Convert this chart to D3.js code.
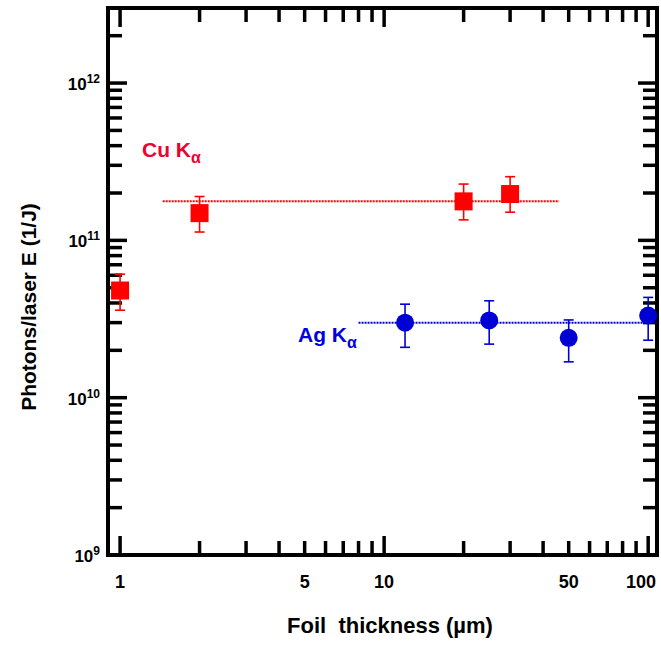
<!DOCTYPE html>
<html>
<head>
<meta charset="utf-8">
<script src="https://cdn.jsdelivr.net/npm/d3@7"></script>
<style>
  html, body { margin: 0; padding: 0; background: #fff; }
  svg { display: block; font-family: "Liberation Sans", Arial, sans-serif; }
</style>
</head>
<body>
<svg id="chart" width="661" height="650"></svg>
<script>
// ---- data ----
const cuX  = [1, 2, 20, 30];
const cuY  = [4.8e10, 1.49e11, 1.77e11, 1.97e11];
const cuLo = [3.6e10, 1.13e11, 1.35e11, 1.51e11];
const cuHi = [6.1e10, 1.90e11, 2.28e11, 2.54e11];

const agX  = [12, 25, 50, 100];
const agY  = [3.0e10, 3.1e10, 2.4e10, 3.33e10];
const agLo = [2.09e10, 2.19e10, 1.69e10, 2.32e10];
const agHi = [3.93e10, 4.13e10, 3.12e10, 4.34e10];

const cuFitX = [1.45, 46];
const cuFitY = 1.77e11;
const agFitX = [8, 108];
const agFitY = 3.0e10;

const xMajor = [1, 10, 100];
const xMinor = [2, 3, 4, 5, 6, 7, 8, 9, 20, 30, 40, 50, 60, 70, 80, 90];
const xTickLabels = [1, 5, 10, 50, 100];
const yMajorExp = [9, 10, 11, 12];
const yMinor = [];
[1e9, 1e10, 1e11, 1e12].forEach(d => { for (let k = 2; k <= 9; k++) if (d * k <= 3e12) yMinor.push(d * k); });

// ---- layout ----
const L = 108, R = 657, T = 8, B = 555;
const svg = d3.select("#chart");
const x = d3.scaleLog().domain([0.9, 108]).range([L, R]);
const y = d3.scaleLog().domain([1e9, 3e12]).range([B, T]);

const red = "#ff0000", blue = "#0000d4";

// ticks
const gT = svg.append("g").attr("stroke", "#000").attr("stroke-width", 3.5);
function xt(v, len) {
  gT.append("line").attr("x1", x(v)).attr("x2", x(v)).attr("y1", B).attr("y2", B - len);
  gT.append("line").attr("x1", x(v)).attr("x2", x(v)).attr("y1", T).attr("y2", T + len);
}
function yt(v, len) {
  gT.append("line").attr("x1", L).attr("x2", L + len).attr("y1", y(v)).attr("y2", y(v));
  gT.append("line").attr("x1", R).attr("x2", R - len).attr("y1", y(v)).attr("y2", y(v));
}
xMajor.forEach(v => xt(v, 19));
xMinor.forEach(v => xt(v, 14));
yMajorExp.forEach(e => yt(Math.pow(10, e), 19));
yMinor.forEach(v => yt(v, 14));

// frame
svg.append("rect").attr("x", L).attr("y", T).attr("width", R - L).attr("height", B - T)
  .attr("fill", "none").attr("stroke", "#000").attr("stroke-width", 4);

// tick labels
svg.append("g").selectAll("text").data(xTickLabels).join("text")
  .attr("x", d => Math.min(x(d), 641)).attr("y", 588).attr("text-anchor", "middle")
  .attr("font-size", 18).attr("font-weight", "bold").text(d => d);

const yl = svg.append("g").selectAll("text").data(yMajorExp).join("text")
  .attr("x", 100).attr("y", d => y(Math.pow(10, d)) + 7).attr("text-anchor", "end")
  .attr("font-weight", "bold");
yl.append("tspan").attr("font-size", 17).text("10");
yl.append("tspan").attr("font-size", 12).attr("dy", -7).text(d => d);

// axis titles
svg.append("text").attr("x", 390).attr("y", 633).attr("text-anchor", "middle")
  .attr("font-size", 22).attr("font-weight", "bold").text("Foil\u00a0 thickness (\u00b5m)");
svg.append("text").attr("transform", "translate(36,307) rotate(-90)").attr("text-anchor", "middle")
  .attr("font-size", 21).attr("font-weight", "bold").text("Photons/laser E (1/J)");

// fit lines
svg.append("line").attr("x1", x(cuFitX[0])).attr("x2", x(cuFitX[1]))
  .attr("y1", y(cuFitY)).attr("y2", y(cuFitY))
  .attr("stroke", red).attr("stroke-width", 2).attr("stroke-dasharray", "2,1");
svg.append("line").attr("x1", x(agFitX[0])).attr("x2", x(agFitX[1]))
  .attr("y1", y(agFitY)).attr("y2", y(agFitY))
  .attr("stroke", blue).attr("stroke-width", 2).attr("stroke-dasharray", "2,1");

// error bars
function errBars(xs, lo, hi, col) {
  const g = svg.append("g").attr("stroke", col).attr("stroke-width", 1.6);
  xs.forEach((v, i) => {
    g.append("line").attr("x1", x(v)).attr("x2", x(v)).attr("y1", y(lo[i])).attr("y2", y(hi[i]));
    g.append("line").attr("x1", x(v) - 5).attr("x2", x(v) + 5).attr("y1", y(lo[i])).attr("y2", y(lo[i]));
    g.append("line").attr("x1", x(v) - 5).attr("x2", x(v) + 5).attr("y1", y(hi[i])).attr("y2", y(hi[i]));
  });
}
errBars(cuX, cuLo, cuHi, red);
errBars(agX, agLo, agHi, blue);

// markers
const S = 18;
svg.append("g").selectAll("rect").data(cuX).join("rect")
  .attr("x", d => x(d) - S / 2).attr("y", (d, i) => y(cuY[i]) - S / 2)
  .attr("width", S).attr("height", S).attr("fill", red);
svg.append("g").selectAll("circle").data(agX).join("circle")
  .attr("cx", d => x(d)).attr("cy", (d, i) => y(agY[i])).attr("r", 9).attr("fill", blue);

// series labels
const cuT = svg.append("text").attr("x", 142).attr("y", 157).attr("fill", "#f00030")
  .attr("font-size", 21).attr("font-weight", "bold");
cuT.append("tspan").text("Cu K");
cuT.append("tspan").attr("font-size", 16).attr("dy", 6).text("\u03b1");
const agT = svg.append("text").attr("x", 298).attr("y", 342).attr("fill", "#0000e0")
  .attr("font-size", 21).attr("font-weight", "bold");
agT.append("tspan").text("Ag K");
agT.append("tspan").attr("font-size", 16).attr("dy", 6).text("\u03b1");
</script>
</body>
</html>
